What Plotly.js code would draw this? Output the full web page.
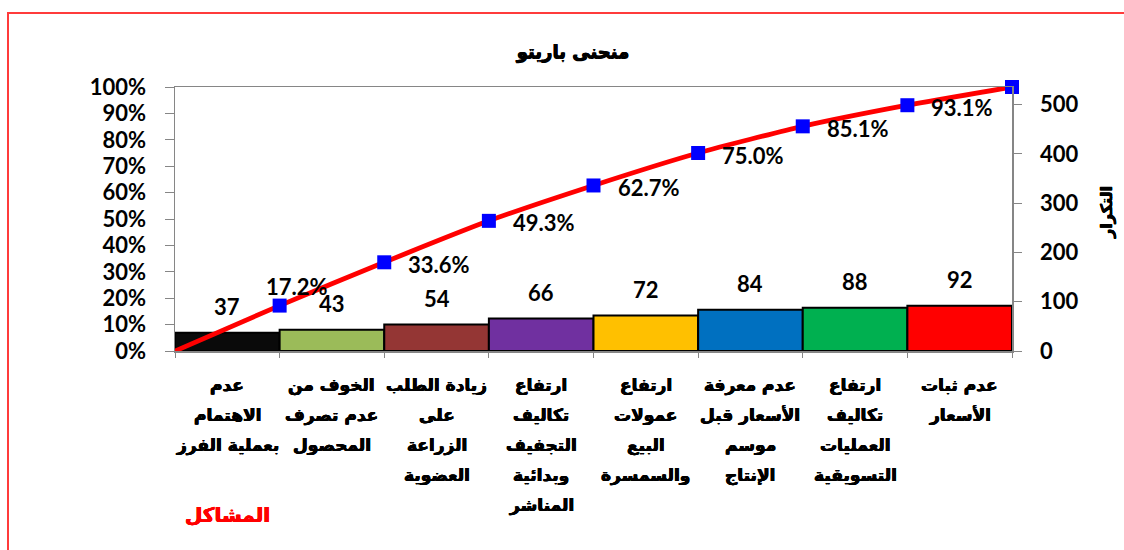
<!DOCTYPE html>
<html>
<head>
<meta charset="utf-8">
<script src="https://cdn.plot.ly/plotly-3.0.1.min.js"></script>
<style>html,body{margin:0;padding:0;background:#fff;}#chart{width:1124px;height:550px;overflow:hidden;}</style>
</head>
<body>
<div id="chart"></div>
<script>
// ---- data (left to right) ----
const categories = [
  'عدم<br>الاهتمام<br>بعملية الفرز',
  'الخوف من<br>عدم تصرف<br>المحصول',
  'زيادة الطلب<br>على<br>الزراعة<br>العضوية',
  'ارتفاع<br>تكاليف<br>التجفيف<br>وبدائية<br>المناشر',
  'ارتفاع<br>عمولات<br>البيع<br>والسمسرة',
  'عدم معرفة<br>الأسعار قبل<br>موسم<br>الإنتاج',
  'ارتفاع<br>تكاليف<br>العمليات<br>التسويقية',
  'عدم ثبات<br>الأسعار'
];
const values = [37, 43, 54, 66, 72, 84, 88, 92];
const cumulativePct = [17.2, 33.6, 49.3, 62.7, 75.0, 85.1, 93.1, 100];
const pctTicks = [0, 10, 20, 30, 40, 50, 60, 70, 80, 90, 100];
const countTicks = [0, 100, 200, 300, 400, 500];
const chartTitle = 'منحنى باريتو';
const xTitle = 'المشاكل';
const yRightTitle = 'التكرار';

// ---- styles ----
const barColors = ['#0a0a0a', '#9BBB59', '#943634', '#7030A0', '#FFC000', '#0070C0', '#00B050', '#FF0000'];
const numFont = {family: 'Lato, "DejaVu Sans", sans-serif', size: 22, color: '#000', weight: 'bold'};
const boldShadow = (c) => `0.45px 0 0 ${c}, -0.45px 0 0 ${c}, 0 0.35px 0 ${c}`;
const arFont = {family: '"DejaVu Sans", sans-serif', size: 17, color: '#000', weight: 'bold', shadow: boldShadow('#000')};
const axisGray = '#868686';

const idx = categories.map((_, i) => i);
const boundaries = [-0.5].concat(categories.map((_, i) => i + 0.5));
const total = values.reduce((a, b) => a + b, 0);

const barTrace = {
  type: 'bar', x: idx, y: values, yaxis: 'y', width: 1,
  marker: {color: barColors, line: {color: '#000', width: 2}},
  hoverinfo: 'skip', showlegend: false
};
const lineTrace = {
  type: 'scatter', mode: 'lines+markers', x: boundaries,
  y: [0].concat(cumulativePct.map(v => v / 100)), yaxis: 'y2',
  line: {color: '#FF0000', width: 4.8, shape: 'spline', smoothing: 0.6},
  marker: {symbol: 'square', color: '#0000FF', opacity: 1, line: {width: 0},
    size: [0].concat(cumulativePct.map(() => 14))},
  hoverinfo: 'skip', showlegend: false, cliponaxis: false
};

const annotations = [];
// bar value labels
values.forEach((v, i) => {
  annotations.push({x: i, y: v, xref: 'x', yref: 'y', text: String(v), showarrow: false,
    yanchor: 'middle', yshift: 26, font: numFont});
});
// cumulative percent labels
cumulativePct.forEach((p, i) => {
  if (p >= 100) return;
  const first = i === 0;
  annotations.push({x: i + 0.5, y: p / 100, xref: 'x', yref: 'y2', text: p.toFixed(1) + '%',
    showarrow: false, xanchor: first ? 'center' : 'left', xshift: first ? 17 : 22,
    yanchor: 'middle', yshift: first ? 19 : -2, font: numFont});
});
// category labels, line by line
categories.forEach((c, i) => {
  c.split('<br>').forEach((line, k) => {
    annotations.push({x: i, y: 0, xref: 'x', yref: 'paper', text: line, showarrow: false,
      xanchor: 'center', yanchor: 'top', yshift: -22 - k * 30, font: arFont});
  });
});
// x title (bottom left, red)
annotations.push({x: 0.0633, y: -0.621, xref: 'paper', yref: 'paper', text: xTitle, showarrow: false,
  xanchor: 'center', yanchor: 'middle',
  font: {family: '"DejaVu Sans", sans-serif', size: 20, color: '#FF0000', weight: 'bold', shadow: boldShadow('#FF0000')}});
// right axis title, rotated (partly cut by the right edge, as in the reference)
annotations.push({x: 1.1135, y: 0.527, xref: 'paper', yref: 'paper', text: yRightTitle, showarrow: false,
  textangle: -90, xanchor: 'center', yanchor: 'middle',
  font: {family: '"DejaVu Sans", sans-serif', size: 16, color: '#000', weight: 'bold', shadow: boldShadow('#000')}});

const layout = {
  width: 1124, height: 550,
  margin: {l: 175, r: 112, t: 87, b: 199, pad: 0},
  paper_bgcolor: '#fff', plot_bgcolor: '#fff',
  showlegend: false,
  title: {text: chartTitle, x: 573 / 1124, xref: 'container', xanchor: 'center',
    y: 1 - 52 / 550, yref: 'container', yanchor: 'middle',
    font: {family: '"DejaVu Sans", sans-serif', size: 18, color: '#000', weight: 'bold', shadow: boldShadow('#000')}},
  xaxis: {range: [-0.5, 7.5], tickmode: 'array', tickvals: boundaries, showticklabels: false,
    ticks: 'outside', ticklen: 5, tickcolor: axisGray, showgrid: false, zeroline: false,
    showline: true, linecolor: axisGray, linewidth: 1.5, mirror: true},
  yaxis: {side: 'right', range: [0, total], tickmode: 'array', tickvals: countTicks,
    ticktext: countTicks.map(String), ticks: 'outside', ticklen: 8, tickcolor: axisGray,
    ticklabelstandoff: 14, showgrid: false, zeroline: false, showline: true, linecolor: axisGray,
    linewidth: 1.5, tickfont: numFont},
  yaxis2: {overlaying: 'y', side: 'left', range: [0, 1], tickmode: 'array',
    tickvals: pctTicks.map(v => v / 100), ticktext: pctTicks.map(v => v + '%'),
    ticks: 'outside', ticklen: 9, tickcolor: axisGray, ticklabelstandoff: 14,
    showgrid: false, zeroline: false, showline: true, linecolor: axisGray, linewidth: 1.5,
    tickfont: numFont},
  annotations: annotations,
  shapes: [{type: 'rect', xref: 'paper', yref: 'paper', x0: (8 - 175) / 837, x1: 1.2,
    y0: -1, y1: (351 - 13) / 264, line: {color: '#FF3B3B', width: 2}, fillcolor: 'rgba(0,0,0,0)', layer: 'below'}]
};

Plotly.newPlot('chart', [barTrace, lineTrace], layout, {displayModeBar: false, staticPlot: true});
</script>
</body>
</html>
